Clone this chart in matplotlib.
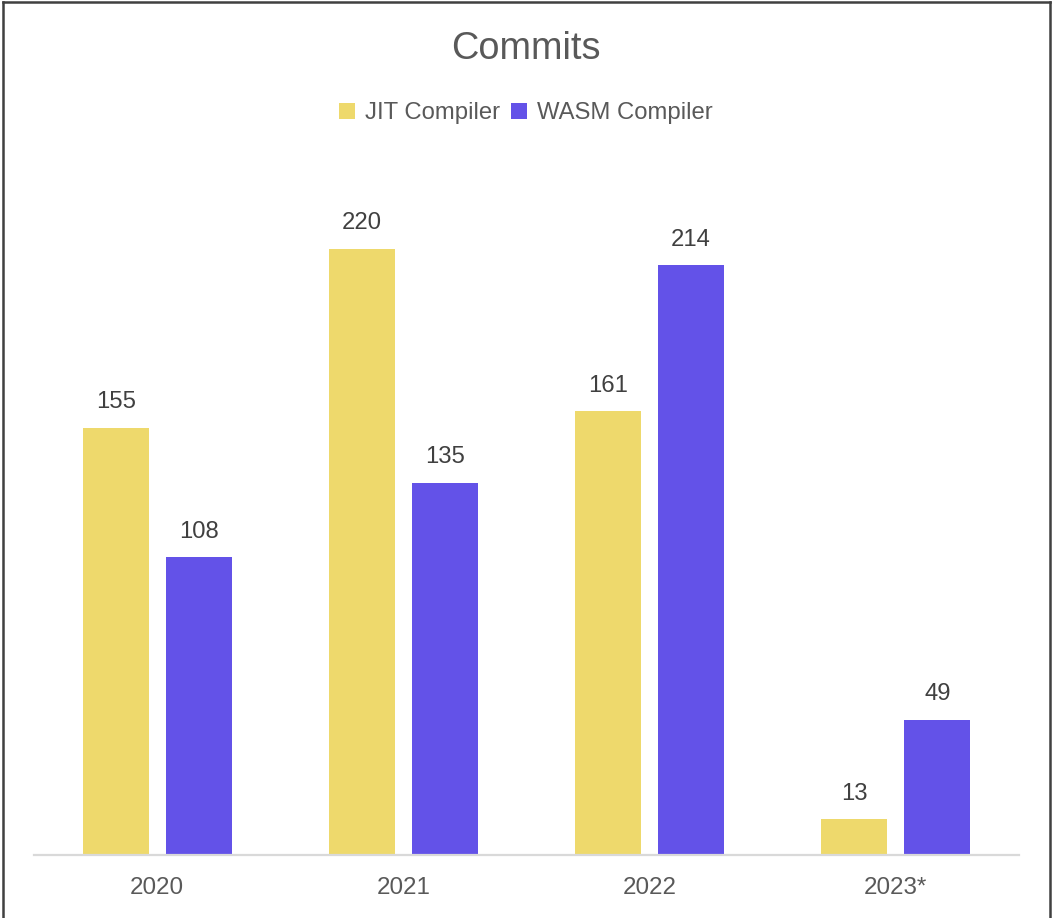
import matplotlib
matplotlib.use("Agg")
import matplotlib.pyplot as plt
from matplotlib.lines import Line2D
from matplotlib.patches import Patch
import numpy as np

plt.rcParams['font.family'] = ['Liberation Sans', 'DejaVu Sans']

categories = ["2020", "2021", "2022", "2023*"]
series_names = ["JIT Compiler", "WASM Compiler"]
jit = [155, 220, 161, 13]
wasm = [108, 135, 214, 49]
colors = ["#EED96C", "#6352E8"]

fig = plt.figure(figsize=(10.52, 9.18), dpi=100)
ax = fig.add_axes([34/1052, 1-855/918, (1019-34)/1052, (855-166)/918])

x = np.arange(len(categories))
w = 0.268
off = 0.1685
for vals, sgn, col in [(jit, -1, colors[0]), (wasm, 1, colors[1])]:
    bars = ax.bar(x + sgn*off, vals, width=w, color=col)
    for b, v in zip(bars, vals):
        ax.annotate(str(v), (b.get_x() + b.get_width()/2, v), xytext=(0, 10.5),
                    textcoords="offset points", ha="center", va="bottom",
                    fontsize=17.2, color="#404040")

ax.set_xlim(-0.5, 3.5)
ax.set_ylim(0, 250)
ax.set_yticks([])
ax.set_xticks(x)
ax.set_xticklabels(categories, fontsize=17.4, color="#595959")
ax.tick_params(axis="x", length=0, pad=16)
for s in ["top", "right", "left"]:
    ax.spines[s].set_visible(False)
ax.spines["bottom"].set_color("#D9D9D9")
ax.spines["bottom"].set_linewidth(1.6)

fig.text(0.5, 1-49/918, "Commits", ha="center", va="center", fontsize=27.3, color="#595959")

handles = [Patch(facecolor=c, edgecolor="none") for c in colors]
fig.legend(handles, series_names, loc="center", bbox_to_anchor=(526/1052, 1-113/918),
           ncol=2, frameon=False, fontsize=17.2, labelcolor="#595959",
           handlelength=0.65, handleheight=0.65, handletextpad=0.43, columnspacing=0.48,
           borderpad=0, borderaxespad=0)

# outer border
bc = "#404040"
fig.add_artist(Line2D([3/1052, 3/1052], [0, 1-2/918], color=bc, lw=1.8, transform=fig.transFigure))
fig.add_artist(Line2D([1050/1052, 1050/1052], [0, 1-2/918], color=bc, lw=1.8, transform=fig.transFigure))
fig.add_artist(Line2D([3/1052, 1050/1052], [1-2/918, 1-2/918], color=bc, lw=1.8, transform=fig.transFigure))

fig.savefig("out.png", dpi=100)
